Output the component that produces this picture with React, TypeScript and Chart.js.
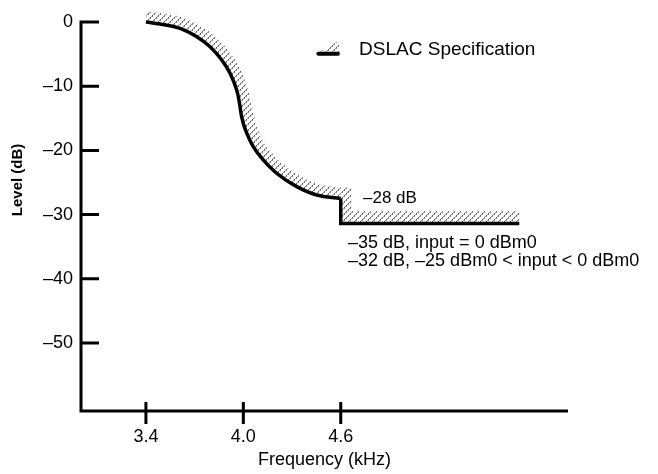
import React, { useEffect, useRef } from 'react';
import { Chart, registerables } from 'chart.js';

Chart.register(...registerables);

// Measured response (solid curve)
const curveFreq = [3.4, 3.487, 3.61, 3.713, 3.795, 3.867, 3.918, 3.959, 3.976, 3.99, 4.013, 4.061, 4.123, 4.206, 4.329, 4.452, 4.6];
const curveLevel = [0, -0.31, -0.98, -2.29, -3.85, -5.92, -7.99, -10.59, -12.6, -14.8, -16.82, -19.42, -21.5, -23.57, -25.65, -26.95, -27.5];
const stopFreq = [4.6, 4.6, 5.7];
const stopLevel = [-27.5, -31.4, -31.4];

// DSLAC specification band (upper edge of the hatched region)
const specFreq = [3.402, 3.498, 3.632, 3.748, 3.841, 3.921, 3.978, 4.023, 4.046, 4.063, 4.081, 4.121, 4.174, 4.248, 4.361, 4.469, 4.6];
const specLevel = [1.65, 1.37, 0.64, -0.83, -2.6, -4.89, -7.23, -10.05, -12.35, -14.33, -16.2, -18.6, -20.36, -22.23, -24.14, -25.3, -25.76];
const specStopFreq = [4.6, 4.665, 4.665, 5.7];
const specStopLevel = [-25.76, -25.8, -29.5, -29.5];

const freqTicks = [3.4, 4.0, 4.6];
const levelTicks = [0, -10, -20, -30, -40, -50];

const legendLabel = 'DSLAC Specification';
const noteStop = '\u201328 dB';
const noteLines = ['\u201335 dB, input = 0 dBm0', '\u201332 dB, \u201325 dBm0 < input < 0 dBm0'];
const xTitle = 'Frequency (kHz)';
const yTitle = 'Level (dB)';

const FAMILY = '"Liberation Sans", Arial, Helvetica, sans-serif';

function makeHatch(): CanvasPattern | string {
  const c = document.createElement('canvas');
  c.width = 6;
  c.height = 6;
  const g = c.getContext('2d');
  if (!g) return '#bbb';
  for (let i = 0; i < 6; i++) {
    g.fillStyle = i % 2 === 0 ? '#555' : '#999';
    g.fillRect(i, 5 - i, 1, 1);
    if (i % 2 === 1) {
      g.fillStyle = '#888';
      g.fillRect((i + 1) % 6, 5 - i, 1, 1);
    }
  }
  return g.createPattern(c, 'repeat') || '#bbb';
}

export default function App() {
  const ref = useRef<HTMLCanvasElement | null>(null);

  useEffect(() => {
    if (!ref.current) return;
    const hatch = makeHatch();
    const pts = (xs: number[], ys: number[]) => xs.map((x, i) => ({ x, y: ys[i] }));

    const decor = {
      id: 'decor',
      afterDatasetsDraw(chart: any) {
        const { ctx } = chart;
        const x = chart.scales.x;
        const y = chart.scales.y;
        ctx.save();
        ctx.strokeStyle = '#000';
        ctx.fillStyle = '#000';
        ctx.lineWidth = 3;
        ctx.lineCap = 'butt';
        ctx.beginPath();
        ctx.moveTo(x.left, y.getPixelForValue(0) - 1.5);
        ctx.lineTo(x.left, y.bottom + 1.5);
        ctx.moveTo(x.left - 1.5, y.bottom);
        ctx.lineTo(x.right, y.bottom);
        levelTicks.forEach((v) => {
          const py = y.getPixelForValue(v);
          ctx.moveTo(x.left, py);
          ctx.lineTo(x.left + 18, py);
        });
        freqTicks.forEach((v) => {
          const px = x.getPixelForValue(v);
          ctx.moveTo(px, y.bottom - 9);
          ctx.lineTo(px, y.bottom + 13);
        });
        ctx.stroke();

        // legend swatch
        const lx0 = x.getPixelForValue(4.45);
        const lx1 = x.getPixelForValue(4.595);
        const ly = y.getPixelForValue(-4.95);
        ctx.fillStyle = hatch as any;
        ctx.beginPath();
        ctx.moveTo(lx0 + 3, ly - 2);
        ctx.lineTo(lx1 - 1, ly - 2);
        ctx.lineTo(lx1 - 1, ly - 13);
        ctx.closePath();
        ctx.fill();
        ctx.lineWidth = 4;
        ctx.lineCap = 'round';
        ctx.beginPath();
        ctx.moveTo(lx0 + 2, ly);
        ctx.lineTo(lx1 - 2, ly);
        ctx.stroke();

        ctx.fillStyle = '#000';
        ctx.font = `19px ${FAMILY}`;
        ctx.textAlign = 'left';
        ctx.textBaseline = 'alphabetic';
        ctx.fillText(legendLabel, x.getPixelForValue(4.713), y.getPixelForValue(-5.1));
        ctx.font = `17px ${FAMILY}`;
        ctx.fillText(noteStop, x.getPixelForValue(4.737), y.getPixelForValue(-28.2));
        ctx.font = `18px ${FAMILY}`;
        ctx.fillText(noteLines[0], x.getPixelForValue(4.645), y.getPixelForValue(-35.2));
        ctx.fillText(noteLines[1], x.getPixelForValue(4.645), y.getPixelForValue(-38.0));

        // y title
        ctx.font = `bold 15px ${FAMILY}`;
        ctx.textAlign = 'center';
        ctx.textBaseline = 'middle';
        ctx.translate(18, y.getPixelForValue(-24.6));
        ctx.rotate(-Math.PI / 2);
        ctx.fillText(yTitle, 0, 0);
        ctx.restore();
      },
    };

    const font = { family: FAMILY, size: 18 };
    const chart = new Chart(ref.current, {
      type: 'line',
      data: {
        datasets: [
          {
            data: pts(curveFreq, curveLevel),
            borderColor: '#000',
            borderWidth: 3.5,
            pointRadius: 0,
            tension: 0.4,
            capBezierPoints: false,
            fill: false,
          },
          {
            data: pts(stopFreq, stopLevel),
            borderColor: '#000',
            borderWidth: 3.5,
            pointRadius: 0,
            tension: 0,
            borderJoinStyle: 'miter',
            fill: false,
          },
          {
            data: pts(specFreq, specLevel),
            borderColor: 'rgba(0,0,0,0)',
            borderWidth: 0,
            pointRadius: 0,
            tension: 0.4,
            capBezierPoints: false,
            backgroundColor: hatch as any,
            fill: { target: 0 },
          },
          {
            data: pts(specStopFreq, specStopLevel),
            borderColor: 'rgba(0,0,0,0)',
            borderWidth: 0,
            pointRadius: 0,
            tension: 0,
            backgroundColor: hatch as any,
            fill: { target: 1 },
          },
        ],
      },
      options: {
        animation: false,
        responsive: true,
        maintainAspectRatio: false,
        layout: { padding: { top: 2.74, right: 90, left: 0, bottom: 0 } },
        plugins: { legend: { display: false }, tooltip: { enabled: false } },
        scales: {
          x: {
            type: 'linear',
            min: 3,
            max: 6,
            border: { display: false },
            grid: { display: false, drawTicks: false },
            ticks: {
              font,
              color: '#000',
              padding: 15,
              callback: (v: any) => Number(v).toFixed(1),
            },
            afterBuildTicks: (s: any) => {
              s.ticks = freqTicks.map((value) => ({ value }));
            },
            title: { display: true, text: xTitle, font, color: '#000', padding: { top: 0, bottom: 3 } },
            afterFit: (s: any) => {
              s.height = 63;
              s.paddingLeft = 0;
              s.paddingRight = 0;
            },
          },
          y: {
            type: 'linear',
            min: -60.6,
            max: 3,
            border: { display: false },
            grid: { display: false, drawTicks: false },
            ticks: {
              font,
              color: '#000',
              padding: 8,
              callback: (v: any) => (Number(v) === 0 ? '0' : '\u2013' + Math.abs(Number(v))),
            },
            afterBuildTicks: (s: any) => {
              s.ticks = levelTicks.map((value) => ({ value }));
            },
            afterFit: (s: any) => {
              s.width = 81;
              s.paddingTop = 0;
              s.paddingBottom = 0;
            },
          },
        },
      },
      plugins: [decor],
    } as any);
    return () => chart.destroy();
  }, []);

  return (
    <div style={{ position: 'fixed', left: 0, top: 0, width: 658, height: 474, background: '#fff' }}>
      <canvas ref={ref} />
    </div>
  );
}
